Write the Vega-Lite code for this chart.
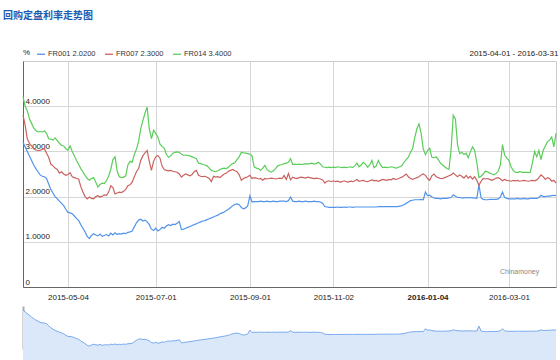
{
  "$schema": "https://vega.github.io/schema/vega-lite/v6.json",
  "padding": {"left": 3, "top": 10, "right": 0, "bottom": 0},
  "background": "white",
  "title": {"text": "回购定盘利率走势图", "anchor": "start", "font": "Noto Sans CJK SC", "fontSize": 10, "fontWeight": "bold", "color": "#1b5cb5", "dx": -17, "offset": 28},
  "config": {"font": "Liberation Sans", "view": {"stroke": "#cccccc"}},
  "datasets": {
    "rates": [
      {"d":"2015-04-01","FR001":3.20,"FR007":3.80,"FR014":4.21},
      {"d":"2015-04-02","FR001":3.10,"FR007":3.58,"FR014":4.00},
      {"d":"2015-04-03","FR001":3.00,"FR007":3.28,"FR014":3.90},
      {"d":"2015-04-07","FR001":2.90,"FR007":3.18,"FR014":3.72},
      {"d":"2015-04-08","FR001":2.80,"FR007":3.12,"FR014":3.62},
      {"d":"2015-04-09","FR001":2.70,"FR007":3.06,"FR014":3.52},
      {"d":"2015-04-10","FR001":2.62,"FR007":3.03,"FR014":3.46},
      {"d":"2015-04-13","FR001":2.55,"FR007":3.02,"FR014":3.43},
      {"d":"2015-04-14","FR001":2.48,"FR007":3.02,"FR014":3.44},
      {"d":"2015-04-15","FR001":2.45,"FR007":3.05,"FR014":3.43},
      {"d":"2015-04-16","FR001":2.44,"FR007":3.06,"FR014":3.45},
      {"d":"2015-04-17","FR001":2.40,"FR007":2.96,"FR014":3.40},
      {"d":"2015-04-20","FR001":2.28,"FR007":2.87,"FR014":3.28},
      {"d":"2015-04-21","FR001":2.16,"FR007":2.72,"FR014":3.27},
      {"d":"2015-04-22","FR001":2.08,"FR007":2.68,"FR014":3.25},
      {"d":"2015-04-23","FR001":2.00,"FR007":2.63,"FR014":3.30},
      {"d":"2015-04-24","FR001":1.95,"FR007":2.60,"FR014":3.24},
      {"d":"2015-04-27","FR001":1.90,"FR007":2.52,"FR014":3.18},
      {"d":"2015-04-28","FR001":1.85,"FR007":2.55,"FR014":3.13},
      {"d":"2015-04-29","FR001":1.80,"FR007":2.50,"FR014":3.12},
      {"d":"2015-04-30","FR001":1.72,"FR007":2.47,"FR014":3.06},
      {"d":"2015-05-04","FR001":1.65,"FR007":2.49,"FR014":3.03},
      {"d":"2015-05-05","FR001":1.64,"FR007":2.53,"FR014":3.12},
      {"d":"2015-05-06","FR001":1.62,"FR007":2.44,"FR014":3.00},
      {"d":"2015-05-07","FR001":1.57,"FR007":2.42,"FR014":2.90},
      {"d":"2015-05-08","FR001":1.52,"FR007":2.40,"FR014":2.80},
      {"d":"2015-05-11","FR001":1.47,"FR007":2.39,"FR014":2.71},
      {"d":"2015-05-12","FR001":1.38,"FR007":2.22,"FR014":2.62},
      {"d":"2015-05-13","FR001":1.30,"FR007":2.10,"FR014":2.55},
      {"d":"2015-05-14","FR001":1.22,"FR007":2.00,"FR014":2.47},
      {"d":"2015-05-15","FR001":1.12,"FR007":1.95,"FR014":2.40},
      {"d":"2015-05-18","FR001":1.07,"FR007":1.99,"FR014":2.36},
      {"d":"2015-05-19","FR001":1.14,"FR007":1.96,"FR014":2.40},
      {"d":"2015-05-20","FR001":1.18,"FR007":1.95,"FR014":2.42},
      {"d":"2015-05-21","FR001":1.15,"FR007":2.00,"FR014":2.32},
      {"d":"2015-05-22","FR001":1.13,"FR007":2.02,"FR014":2.21},
      {"d":"2015-05-25","FR001":1.17,"FR007":1.99,"FR014":2.27},
      {"d":"2015-05-26","FR001":1.12,"FR007":2.01,"FR014":2.30},
      {"d":"2015-05-27","FR001":1.14,"FR007":2.04,"FR014":2.29},
      {"d":"2015-05-28","FR001":1.16,"FR007":2.03,"FR014":2.35},
      {"d":"2015-05-29","FR001":1.13,"FR007":2.10,"FR014":2.45},
      {"d":"2015-06-01","FR001":1.19,"FR007":2.24,"FR014":2.60},
      {"d":"2015-06-02","FR001":1.15,"FR007":2.20,"FR014":2.82},
      {"d":"2015-06-03","FR001":1.20,"FR007":2.06,"FR014":2.88},
      {"d":"2015-06-04","FR001":1.16,"FR007":2.08,"FR014":2.56},
      {"d":"2015-06-05","FR001":1.18,"FR007":2.10,"FR014":2.44},
      {"d":"2015-06-08","FR001":1.17,"FR007":2.09,"FR014":2.42},
      {"d":"2015-06-09","FR001":1.19,"FR007":2.12,"FR014":2.43},
      {"d":"2015-06-10","FR001":1.18,"FR007":2.16,"FR014":2.46},
      {"d":"2015-06-11","FR001":1.21,"FR007":2.24,"FR014":2.70},
      {"d":"2015-06-12","FR001":1.22,"FR007":2.26,"FR014":2.78},
      {"d":"2015-06-15","FR001":1.24,"FR007":2.32,"FR014":2.76},
      {"d":"2015-06-16","FR001":1.33,"FR007":2.44,"FR014":2.93},
      {"d":"2015-06-17","FR001":1.42,"FR007":2.55,"FR014":3.05},
      {"d":"2015-06-18","FR001":1.48,"FR007":2.62,"FR014":3.22},
      {"d":"2015-06-19","FR001":1.50,"FR007":2.80,"FR014":3.50},
      {"d":"2015-06-23","FR001":1.46,"FR007":2.90,"FR014":3.68},
      {"d":"2015-06-24","FR001":1.48,"FR007":2.97,"FR014":3.85},
      {"d":"2015-06-25","FR001":1.44,"FR007":3.02,"FR014":3.98},
      {"d":"2015-06-26","FR001":1.38,"FR007":2.78,"FR014":3.50},
      {"d":"2015-06-29","FR001":1.28,"FR007":2.58,"FR014":3.28},
      {"d":"2015-06-30","FR001":1.25,"FR007":2.78,"FR014":3.47},
      {"d":"2015-07-01","FR001":1.30,"FR007":2.88,"FR014":3.40},
      {"d":"2015-07-02","FR001":1.24,"FR007":2.91,"FR014":3.32},
      {"d":"2015-07-03","FR001":1.27,"FR007":2.85,"FR014":3.16},
      {"d":"2015-07-06","FR001":1.32,"FR007":2.67,"FR014":3.11},
      {"d":"2015-07-07","FR001":1.30,"FR007":2.60,"FR014":3.07},
      {"d":"2015-07-08","FR001":1.35,"FR007":2.58,"FR014":2.93},
      {"d":"2015-07-09","FR001":1.38,"FR007":2.57,"FR014":2.87},
      {"d":"2015-07-10","FR001":1.36,"FR007":2.58,"FR014":2.90},
      {"d":"2015-07-13","FR001":1.39,"FR007":2.56,"FR014":2.96},
      {"d":"2015-07-14","FR001":1.38,"FR007":2.55,"FR014":2.98},
      {"d":"2015-07-15","FR001":1.41,"FR007":2.54,"FR014":2.99},
      {"d":"2015-07-16","FR001":1.45,"FR007":2.50,"FR014":2.98},
      {"d":"2015-07-17","FR001":1.27,"FR007":2.43,"FR014":2.94},
      {"d":"2015-07-20","FR001":1.28,"FR007":2.47,"FR014":2.91},
      {"d":"2015-07-21","FR001":1.30,"FR007":2.50,"FR014":2.92},
      {"d":"2015-07-22","FR001":1.32,"FR007":2.48,"FR014":2.91},
      {"d":"2015-07-23","FR001":1.34,"FR007":2.46,"FR014":2.90},
      {"d":"2015-07-24","FR001":1.36,"FR007":2.49,"FR014":2.88},
      {"d":"2015-07-27","FR001":1.38,"FR007":2.55,"FR014":2.86},
      {"d":"2015-07-28","FR001":1.40,"FR007":2.58,"FR014":2.84},
      {"d":"2015-07-29","FR001":1.42,"FR007":2.47,"FR014":2.74},
      {"d":"2015-07-30","FR001":1.44,"FR007":2.45,"FR014":2.73},
      {"d":"2015-07-31","FR001":1.46,"FR007":2.44,"FR014":2.71},
      {"d":"2015-08-03","FR001":1.47,"FR007":2.45,"FR014":2.70},
      {"d":"2015-08-04","FR001":1.49,"FR007":2.43,"FR014":2.68},
      {"d":"2015-08-05","FR001":1.51,"FR007":2.40,"FR014":2.63},
      {"d":"2015-08-06","FR001":1.53,"FR007":2.33,"FR014":2.58},
      {"d":"2015-08-07","FR001":1.55,"FR007":2.45,"FR014":2.56},
      {"d":"2015-08-10","FR001":1.57,"FR007":2.43,"FR014":2.55},
      {"d":"2015-08-11","FR001":1.59,"FR007":2.44,"FR014":2.57},
      {"d":"2015-08-12","FR001":1.62,"FR007":2.42,"FR014":2.60},
      {"d":"2015-08-13","FR001":1.64,"FR007":2.46,"FR014":2.62},
      {"d":"2015-08-14","FR001":1.66,"FR007":2.50,"FR014":2.63},
      {"d":"2015-08-17","FR001":1.69,"FR007":2.52,"FR014":2.62},
      {"d":"2015-08-18","FR001":1.72,"FR007":2.56,"FR014":2.65},
      {"d":"2015-08-19","FR001":1.76,"FR007":2.58,"FR014":2.70},
      {"d":"2015-08-20","FR001":1.80,"FR007":2.60,"FR014":2.73},
      {"d":"2015-08-21","FR001":1.83,"FR007":2.57,"FR014":2.75},
      {"d":"2015-08-24","FR001":1.84,"FR007":2.55,"FR014":2.82},
      {"d":"2015-08-25","FR001":1.82,"FR007":2.48,"FR014":2.88},
      {"d":"2015-08-26","FR001":1.76,"FR007":2.36,"FR014":2.98},
      {"d":"2015-08-27","FR001":1.73,"FR007":2.40,"FR014":2.97},
      {"d":"2015-08-28","FR001":1.75,"FR007":2.42,"FR014":2.96},
      {"d":"2015-08-31","FR001":1.80,"FR007":2.44,"FR014":2.95},
      {"d":"2015-09-01","FR001":2.02,"FR007":2.47,"FR014":2.94},
      {"d":"2015-09-02","FR001":1.88,"FR007":2.40,"FR014":2.90},
      {"d":"2015-09-06","FR001":1.89,"FR007":2.42,"FR014":2.66},
      {"d":"2015-09-07","FR001":1.89,"FR007":2.41,"FR014":2.63},
      {"d":"2015-09-08","FR001":1.89,"FR007":2.39,"FR014":2.62},
      {"d":"2015-09-09","FR001":1.90,"FR007":2.40,"FR014":2.58},
      {"d":"2015-09-10","FR001":1.89,"FR007":2.36,"FR014":2.63},
      {"d":"2015-09-11","FR001":1.89,"FR007":2.40,"FR014":2.69},
      {"d":"2015-09-14","FR001":1.90,"FR007":2.39,"FR014":2.60},
      {"d":"2015-09-15","FR001":1.89,"FR007":2.40,"FR014":2.56},
      {"d":"2015-09-16","FR001":1.89,"FR007":2.41,"FR014":2.54},
      {"d":"2015-09-17","FR001":1.90,"FR007":2.40,"FR014":2.57},
      {"d":"2015-09-18","FR001":1.89,"FR007":2.39,"FR014":2.62},
      {"d":"2015-09-21","FR001":1.89,"FR007":2.40,"FR014":2.68},
      {"d":"2015-09-22","FR001":1.90,"FR007":2.41,"FR014":2.70},
      {"d":"2015-09-23","FR001":1.90,"FR007":2.40,"FR014":2.71},
      {"d":"2015-09-24","FR001":1.90,"FR007":2.47,"FR014":2.73},
      {"d":"2015-09-25","FR001":1.89,"FR007":2.38,"FR014":2.74},
      {"d":"2015-09-28","FR001":1.91,"FR007":2.51,"FR014":2.76},
      {"d":"2015-09-29","FR001":1.99,"FR007":2.37,"FR014":2.84},
      {"d":"2015-09-30","FR001":1.90,"FR007":2.43,"FR014":2.71},
      {"d":"2015-10-08","FR001":1.89,"FR007":2.41,"FR014":2.72},
      {"d":"2015-10-09","FR001":1.89,"FR007":2.40,"FR014":2.71},
      {"d":"2015-10-10","FR001":1.90,"FR007":2.42,"FR014":2.72},
      {"d":"2015-10-12","FR001":1.89,"FR007":2.43,"FR014":2.71},
      {"d":"2015-10-13","FR001":1.89,"FR007":2.42,"FR014":2.72},
      {"d":"2015-10-14","FR001":1.90,"FR007":2.41,"FR014":2.73},
      {"d":"2015-10-15","FR001":1.89,"FR007":2.43,"FR014":2.72},
      {"d":"2015-10-16","FR001":1.89,"FR007":2.42,"FR014":2.73},
      {"d":"2015-10-19","FR001":1.89,"FR007":2.41,"FR014":2.74},
      {"d":"2015-10-20","FR001":1.90,"FR007":2.40,"FR014":2.72},
      {"d":"2015-10-21","FR001":1.89,"FR007":2.41,"FR014":2.73},
      {"d":"2015-10-22","FR001":1.89,"FR007":2.40,"FR014":2.76},
      {"d":"2015-10-23","FR001":1.88,"FR007":2.39,"FR014":2.72},
      {"d":"2015-10-26","FR001":1.85,"FR007":2.37,"FR014":2.66},
      {"d":"2015-10-27","FR001":1.78,"FR007":2.30,"FR014":2.65},
      {"d":"2015-10-28","FR001":1.77,"FR007":2.34,"FR014":2.64},
      {"d":"2015-10-29","FR001":1.76,"FR007":2.35,"FR014":2.65},
      {"d":"2015-10-30","FR001":1.76,"FR007":2.33,"FR014":2.64},
      {"d":"2015-11-02","FR001":1.76,"FR007":2.35,"FR014":2.65},
      {"d":"2015-11-03","FR001":1.76,"FR007":2.33,"FR014":2.64},
      {"d":"2015-11-04","FR001":1.77,"FR007":2.34,"FR014":2.66},
      {"d":"2015-11-05","FR001":1.76,"FR007":2.32,"FR014":2.65},
      {"d":"2015-11-06","FR001":1.76,"FR007":2.33,"FR014":2.64},
      {"d":"2015-11-09","FR001":1.77,"FR007":2.35,"FR014":2.65},
      {"d":"2015-11-10","FR001":1.76,"FR007":2.33,"FR014":2.64},
      {"d":"2015-11-11","FR001":1.77,"FR007":2.32,"FR014":2.65},
      {"d":"2015-11-12","FR001":1.77,"FR007":2.34,"FR014":2.66},
      {"d":"2015-11-13","FR001":1.76,"FR007":2.33,"FR014":2.64},
      {"d":"2015-11-16","FR001":1.77,"FR007":2.35,"FR014":2.68},
      {"d":"2015-11-17","FR001":1.77,"FR007":2.38,"FR014":2.74},
      {"d":"2015-11-18","FR001":1.77,"FR007":2.34,"FR014":2.66},
      {"d":"2015-11-19","FR001":1.77,"FR007":2.35,"FR014":2.70},
      {"d":"2015-11-20","FR001":1.77,"FR007":2.36,"FR014":2.76},
      {"d":"2015-11-23","FR001":1.77,"FR007":2.34,"FR014":2.72},
      {"d":"2015-11-24","FR001":1.77,"FR007":2.33,"FR014":2.65},
      {"d":"2015-11-25","FR001":1.77,"FR007":2.35,"FR014":2.70},
      {"d":"2015-11-26","FR001":1.77,"FR007":2.37,"FR014":2.80},
      {"d":"2015-11-27","FR001":1.77,"FR007":2.35,"FR014":2.64},
      {"d":"2015-11-30","FR001":1.77,"FR007":2.36,"FR014":2.68},
      {"d":"2015-12-01","FR001":1.78,"FR007":2.34,"FR014":2.80},
      {"d":"2015-12-02","FR001":1.78,"FR007":2.36,"FR014":2.70},
      {"d":"2015-12-03","FR001":1.78,"FR007":2.38,"FR014":2.64},
      {"d":"2015-12-04","FR001":1.78,"FR007":2.37,"FR014":2.65},
      {"d":"2015-12-07","FR001":1.78,"FR007":2.36,"FR014":2.64},
      {"d":"2015-12-08","FR001":1.78,"FR007":2.38,"FR014":2.65},
      {"d":"2015-12-09","FR001":1.78,"FR007":2.37,"FR014":2.66},
      {"d":"2015-12-10","FR001":1.78,"FR007":2.40,"FR014":2.65},
      {"d":"2015-12-11","FR001":1.78,"FR007":2.38,"FR014":2.63},
      {"d":"2015-12-14","FR001":1.78,"FR007":2.39,"FR014":2.64},
      {"d":"2015-12-15","FR001":1.79,"FR007":2.41,"FR014":2.66},
      {"d":"2015-12-16","FR001":1.80,"FR007":2.43,"FR014":2.68},
      {"d":"2015-12-17","FR001":1.82,"FR007":2.46,"FR014":2.76},
      {"d":"2015-12-18","FR001":1.85,"FR007":2.50,"FR014":2.82},
      {"d":"2015-12-21","FR001":1.88,"FR007":2.44,"FR014":2.87},
      {"d":"2015-12-22","FR001":1.91,"FR007":2.40,"FR014":2.98},
      {"d":"2015-12-23","FR001":1.92,"FR007":2.38,"FR014":3.06},
      {"d":"2015-12-24","FR001":1.93,"FR007":2.40,"FR014":3.30},
      {"d":"2015-12-25","FR001":1.93,"FR007":2.42,"FR014":3.50},
      {"d":"2015-12-28","FR001":1.93,"FR007":2.44,"FR014":3.61},
      {"d":"2015-12-29","FR001":1.94,"FR007":2.48,"FR014":3.40},
      {"d":"2015-12-30","FR001":1.93,"FR007":2.50,"FR014":3.05},
      {"d":"2015-12-31","FR001":2.10,"FR007":2.47,"FR014":2.93},
      {"d":"2016-01-04","FR001":2.02,"FR007":2.40,"FR014":3.02},
      {"d":"2016-01-05","FR001":2.03,"FR007":2.36,"FR014":3.07},
      {"d":"2016-01-06","FR001":1.99,"FR007":2.46,"FR014":2.87},
      {"d":"2016-01-07","FR001":1.97,"FR007":2.50,"FR014":2.86},
      {"d":"2016-01-08","FR001":1.96,"FR007":2.44,"FR014":2.88},
      {"d":"2016-01-11","FR001":1.96,"FR007":2.42,"FR014":2.82},
      {"d":"2016-01-12","FR001":1.95,"FR007":2.40,"FR014":2.74},
      {"d":"2016-01-13","FR001":1.96,"FR007":2.40,"FR014":2.70},
      {"d":"2016-01-14","FR001":1.96,"FR007":2.42,"FR014":2.66},
      {"d":"2016-01-15","FR001":1.96,"FR007":2.44,"FR014":2.62},
      {"d":"2016-01-18","FR001":1.97,"FR007":2.46,"FR014":2.60},
      {"d":"2016-01-19","FR001":1.98,"FR007":2.48,"FR014":3.05},
      {"d":"2016-01-20","FR001":2.04,"FR007":2.52,"FR014":3.80},
      {"d":"2016-01-21","FR001":2.01,"FR007":2.48,"FR014":3.72},
      {"d":"2016-01-22","FR001":1.98,"FR007":2.44,"FR014":3.15},
      {"d":"2016-01-25","FR001":1.98,"FR007":2.48,"FR014":2.95},
      {"d":"2016-01-26","FR001":1.97,"FR007":2.45,"FR014":2.98},
      {"d":"2016-01-27","FR001":1.97,"FR007":2.41,"FR014":2.93},
      {"d":"2016-01-28","FR001":1.98,"FR007":2.47,"FR014":2.96},
      {"d":"2016-01-29","FR001":1.97,"FR007":2.41,"FR014":2.86},
      {"d":"2016-02-01","FR001":1.98,"FR007":2.45,"FR014":2.99},
      {"d":"2016-02-02","FR001":1.97,"FR007":2.39,"FR014":3.10},
      {"d":"2016-02-03","FR001":1.97,"FR007":2.44,"FR014":3.02},
      {"d":"2016-02-04","FR001":1.96,"FR007":2.36,"FR014":2.75},
      {"d":"2016-02-05","FR001":2.26,"FR007":2.25,"FR014":2.42},
      {"d":"2016-02-06","FR001":1.97,"FR007":2.34,"FR014":2.45},
      {"d":"2016-02-14","FR001":1.94,"FR007":2.40,"FR014":2.50},
      {"d":"2016-02-15","FR001":1.93,"FR007":2.39,"FR014":2.56},
      {"d":"2016-02-16","FR001":1.93,"FR007":2.40,"FR014":2.55},
      {"d":"2016-02-17","FR001":1.94,"FR007":2.38,"FR014":2.52},
      {"d":"2016-02-18","FR001":1.94,"FR007":2.36,"FR014":2.50},
      {"d":"2016-02-19","FR001":1.94,"FR007":2.38,"FR014":2.48},
      {"d":"2016-02-22","FR001":1.94,"FR007":2.41,"FR014":2.51},
      {"d":"2016-02-23","FR001":1.95,"FR007":2.42,"FR014":2.56},
      {"d":"2016-02-24","FR001":1.99,"FR007":2.39,"FR014":2.70},
      {"d":"2016-02-25","FR001":2.10,"FR007":2.35,"FR014":3.15},
      {"d":"2016-02-26","FR001":1.98,"FR007":2.38,"FR014":2.92},
      {"d":"2016-02-29","FR001":1.96,"FR007":2.36,"FR014":2.85},
      {"d":"2016-03-01","FR001":1.95,"FR007":2.35,"FR014":2.80},
      {"d":"2016-03-02","FR001":1.95,"FR007":2.34,"FR014":2.66},
      {"d":"2016-03-03","FR001":1.95,"FR007":2.36,"FR014":2.58},
      {"d":"2016-03-04","FR001":1.95,"FR007":2.35,"FR014":2.54},
      {"d":"2016-03-07","FR001":1.96,"FR007":2.36,"FR014":2.53},
      {"d":"2016-03-08","FR001":1.95,"FR007":2.34,"FR014":2.55},
      {"d":"2016-03-09","FR001":1.95,"FR007":2.35,"FR014":2.54},
      {"d":"2016-03-10","FR001":1.96,"FR007":2.36,"FR014":2.53},
      {"d":"2016-03-11","FR001":1.95,"FR007":2.35,"FR014":2.54},
      {"d":"2016-03-14","FR001":1.95,"FR007":2.34,"FR014":2.53},
      {"d":"2016-03-15","FR001":1.96,"FR007":2.35,"FR014":2.54},
      {"d":"2016-03-16","FR001":1.96,"FR007":2.36,"FR014":2.75},
      {"d":"2016-03-17","FR001":1.96,"FR007":2.35,"FR014":3.00},
      {"d":"2016-03-18","FR001":1.96,"FR007":2.37,"FR014":2.88},
      {"d":"2016-03-21","FR001":1.98,"FR007":2.42,"FR014":3.02},
      {"d":"2016-03-22","FR001":2.03,"FR007":2.48,"FR014":2.82},
      {"d":"2016-03-23","FR001":2.00,"FR007":2.44,"FR014":3.02},
      {"d":"2016-03-24","FR001":2.00,"FR007":2.38,"FR014":3.12},
      {"d":"2016-03-25","FR001":2.01,"FR007":2.42,"FR014":3.21},
      {"d":"2016-03-28","FR001":2.01,"FR007":2.40,"FR014":3.25},
      {"d":"2016-03-29","FR001":2.02,"FR007":2.34,"FR014":3.32},
      {"d":"2016-03-30","FR001":2.03,"FR007":2.36,"FR014":3.10},
      {"d":"2016-03-31","FR001":2.02,"FR007":2.30,"FR014":3.40}
    ]
  },
  "spacing": 4,
  "resolve": {"scale": {"x": "independent", "y": "independent", "color": "independent"}},
  "vconcat": [
    {
      "width": 533,
      "height": 226,
      "title": {"text": "2015-04-01 - 2016-03-31", "anchor": "end", "fontSize": 8, "fontWeight": "normal", "color": "#222222", "offset": -9},
      "layer": [
        {
          "data": {"name": "rates"},
          "transform": [{"fold": ["FR001", "FR007", "FR014"], "as": ["series", "rate"]}],
          "mark": {"type": "line", "strokeWidth": 1.2},
          "encoding": {
            "x": {
              "field": "d", "type": "ordinal",
              "scale": {"type": "point", "padding": 0},
              "axis": {
                "title": null,
                "values": ["2015-05-04", "2015-07-01", "2015-09-01", "2015-11-02", "2016-01-04", "2016-03-01"],
                "grid": true, "gridColor": "#d6d6d6", "ticks": false, "tickSize": 0,
                "domainColor": "#666666", "labelAngle": 0, "labelFontSize": 8, "labelColor": "#222222", "labelPadding": 6,
                "labelFontWeight": {"condition": {"test": "datum.value == '2016-01-04'", "value": "bold"}, "value": "normal"}
              }
            },
            "y": {
              "field": "rate", "type": "quantitative",
              "scale": {"domain": [0, 5]},
              "axis": {
                "title": null, "values": [0, 1, 2, 3, 4], "grid": true, "gridColor": "#d6d6d6",
                "ticks": false, "tickSize": 0, "domainColor": "#666666",
                "labelAlign": "left", "labelBaseline": "alphabetic", "labelPadding": -2, "labelOffset": -3,
                "labelFontSize": 8, "labelColor": "#222222",
                "labelExpr": "datum.value == 0 ? '0' : format(datum.value, '.4f')"
              }
            },
            "color": {
              "field": "series", "type": "nominal",
              "scale": {"domain": ["FR001", "FR007", "FR014"], "range": ["#5294ec", "#c9625f", "#5acd5a"]},
              "legend": {
                "orient": "none", "legendX": 0, "legendY": -12, "direction": "horizontal",
                "title": "%", "titleOrient": "left", "titleFontSize": 8, "titleFontWeight": "normal", "titleColor": "#222222", "titlePadding": 5,
                "symbolType": "stroke", "symbolStrokeWidth": 1.3, "symbolSize": 64,
                "labelFontSize": 7.5, "labelColor": "#333333", "labelOffset": 2, "columnPadding": 6,
                "labelExpr": "datum.label + ' ' + (datum.label == 'FR001' ? '2.0200' : datum.label == 'FR007' ? '2.3000' : '3.4000')"
              }
            }
          }
        },
        {
          "data": {"values": [{"label": "Chinamoney", "d": "2016-03-08", "v": 0.33}]},
          "mark": {"type": "text", "fontSize": 7, "color": "#888888"},
          "encoding": {
            "x": {"field": "d", "type": "ordinal"},
            "y": {"field": "v", "type": "quantitative"},
            "text": {"field": "label"}
          }
        }
      ]
    },
    {
      "width": 533,
      "height": 43,
      "view": {"stroke": null},
      "data": {"name": "rates"},
      "mark": {"type": "area", "color": "#dae8f9", "opacity": 1, "line": {"color": "#78a9ee", "strokeWidth": 1}},
      "encoding": {
        "x": {"field": "d", "type": "ordinal", "scale": {"type": "point", "padding": 0}, "axis": null},
        "y": {
          "field": "FR001", "type": "quantitative",
          "scale": {"domain": [0.9, 3.45], "zero": false},
          "axis": {"title": null, "labels": false, "ticks": false, "grid": false, "domainColor": "#aaaaaa", "domainWidth": 2}
        }
      }
    }
  ]
}
